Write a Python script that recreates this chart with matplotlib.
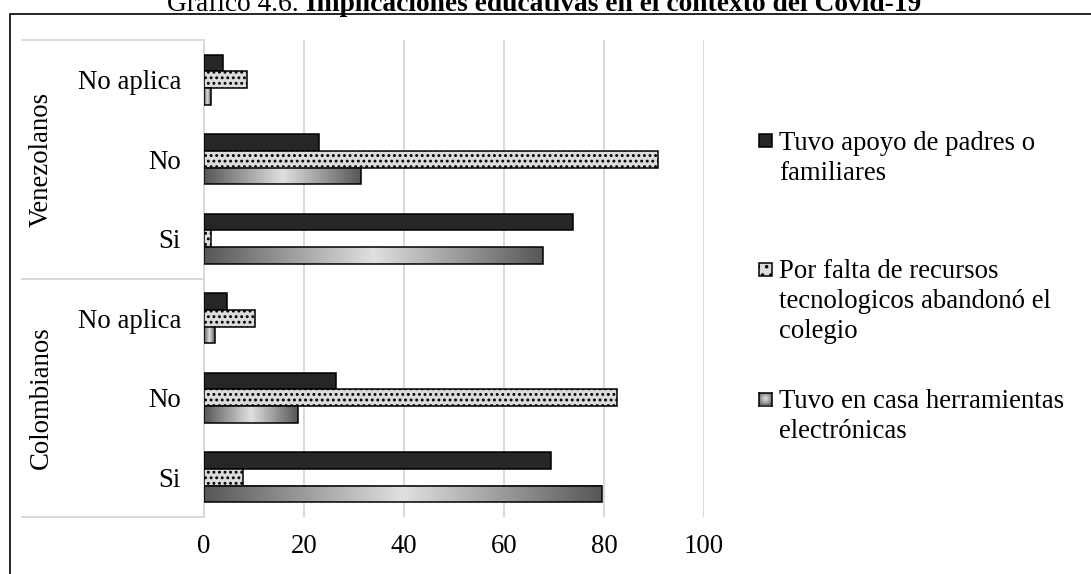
import matplotlib.pyplot as plt
import numpy as np
from matplotlib.colors import LinearSegmentedColormap
from matplotlib.patches import Rectangle

plt.rcParams["font.family"] = "Liberation Serif"
plt.rcParams["hatch.linewidth"] = 1.3

W, H = 1091, 574
FS = 19.3

groups = ["Colombianos", "Venezolanos"]
answers = ["Si", "No", "No aplica"]
series_names = [
    "Tuvo apoyo de padres o\nfamiliares",
    "Por falta de recursos\ntecnologicos abandonó el\ncolegio",
    "Tuvo en casa herramientas\nelectrónicas",
]

# rows: Colombianos Si / No / No aplica, then Venezolanos Si / No / No aplica
apoyo = [69.3, 26.3, 4.6, 73.7, 23.0, 3.7]
abandono = [7.7, 82.5, 10.1, 1.3, 90.7, 8.5]
herramientas = [79.5, 18.7, 2.1, 67.7, 31.4, 1.3]
x_ticks = [0, 20, 40, 60, 80, 100]

DARK = "#262626"
DOTS = "#dcdcdc"
grad_cmap = LinearSegmentedColormap.from_list("bar_grad", ["#575757", "#e0e0e0"])
profile = 1 - np.abs(np.linspace(-1, 1, 256))


def px(x, y):
    """Pixel position (from top-left) to figure fraction."""
    return x / W, 1 - y / H


fig = plt.figure(figsize=(W / 100, H / 100), dpi=100)
ax = fig.add_axes([204 / W, 57 / H, 500 / W, 477 / H])

y = np.arange(len(apoyo))
bh = 0.21
ax.barh(y + bh, apoyo, height=bh, color=DARK, edgecolor="black", lw=1.1, zorder=3)
ax.barh(y, abandono, height=bh, color=DOTS, edgecolor="black", hatch="...", lw=1.1, zorder=3)
grad_bars = ax.barh(y - bh, herramientas, height=bh, facecolor="none",
                    edgecolor="black", lw=1.1, zorder=4)
for bar in grad_bars:
    x0, y0 = bar.get_x(), bar.get_y()
    ax.imshow(profile[None, :], cmap=grad_cmap, vmin=0, vmax=1, aspect="auto",
              extent=(x0, x0 + bar.get_width(), y0, y0 + bar.get_height()),
              interpolation="bilinear", zorder=3)

ax.set_xlim(0, 100)
ax.set_ylim(-0.5, len(apoyo) - 0.5)
ax.set_xticks(x_ticks)
ax.set_yticks(y)
ax.set_yticklabels(answers * len(groups))
ax.xaxis.grid(True, color="#d9d9d9", lw=1.4)
ax.set_axisbelow(True)
for side in ["top", "right", "bottom"]:
    ax.spines[side].set_visible(False)
ax.spines["left"].set_color("#d9d9d9")
ax.spines["left"].set_linewidth(1.4)
ax.tick_params(axis="x", length=0, pad=12, labelsize=FS)
ax.tick_params(axis="y", length=0, pad=16.5, labelsize=FS)

# multi-level category axis: group dividers and group names
ytr = ax.get_yaxis_transform()
left_edge = (22 - 204) / 500
for yy in [-0.5, 2.5, len(apoyo) - 0.5]:
    ax.plot([left_edge, 0], [yy, yy], color="#d9d9d9", lw=1.4, transform=ytr, clip_on=False)
for i, name in enumerate(groups):
    ax.text((41 - 204) / 500, i * 3 + 1, name, rotation=90, ha="center", va="center",
            fontsize=FS, transform=ytr)

# title, regular prefix followed by bold text
t1 = fig.text(*px(167, 11), "Gráfico 4.6. ", fontsize=19.8, va="baseline", ha="left")
ax.annotate("Implicaciones educativas en el contexto del Covid-19", xy=(1, 0), xycoords=t1,
            fontsize=19.8, fontweight="bold", va="bottom", ha="left", annotation_clip=False)

# outer frame
fig.add_artist(Rectangle(px(10, 620), (1100 - 10) / W, (620 - 14) / H, fill=False,
                         edgecolor="black", lw=1.2, transform=fig.transFigure))

# legend drawn by hand so the marker sits on the first text line
legend_rows = [141, 269, 399]
msize = 13
for i, (name, yl) in enumerate(zip(series_names, legend_rows)):
    mx, my = px(759, yl + msize / 2)
    if i == 2:
        max_ = fig.add_axes([mx, my, msize / W, msize / H])
        max_.imshow(np.outer(profile, profile) ** 0.5, cmap=grad_cmap, vmin=0, vmax=1,
                    aspect="auto", interpolation="bilinear")
        max_.set_xticks([])
        max_.set_yticks([])
        for sp in max_.spines.values():
            sp.set_linewidth(1.1)
    else:
        fig.add_artist(Rectangle((mx, my), msize / W, msize / H, transform=fig.transFigure,
                                 facecolor=DARK if i == 0 else DOTS, edgecolor="black",
                                 hatch=None if i == 0 else "..", lw=1.1))
    fig.text(*px(779, yl - 10), name, fontsize=FS, va="top", ha="left",
             linespacing=1.25)

fig.savefig("out.png", dpi=100)
